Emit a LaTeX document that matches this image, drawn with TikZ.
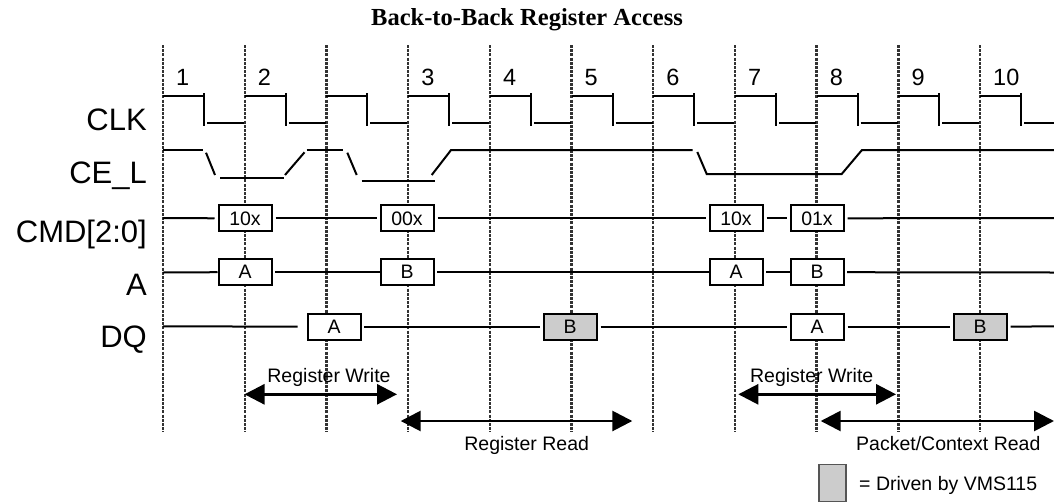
\documentclass[tikz,border=0pt]{standalone}
\usepackage{fontspec}
\setmainfont{Liberation Sans}
\newfontfamily\titlefont{Liberation Serif}
\usetikzlibrary{arrows.meta}
\definecolor{drvgray}{HTML}{CCCCCC}
\definecolor{gridgray}{HTML}{333333}
\definecolor{legborder}{HTML}{555555}
\begin{document}
\begin{tikzpicture}[x=1pt,y=-1pt,
  sig/.style={line width=2pt, line cap=butt},
  gridline/.style={line width=2.4pt, draw=gridgray, dash pattern=on 2.9pt off 1.3pt},
  valbox/.style={draw, line width=2pt, minimum width=53pt, minimum height=26pt, inner sep=0pt, fill=white, font=\fontsize{19.5}{21}\selectfont},
  drvbox/.style={valbox, fill=drvgray},
  rowlab/.style={anchor=base east, inner sep=0pt, font=\fontsize{31}{33}\selectfont},
  cyclab/.style={anchor=base west, inner sep=0pt, font=\fontsize{23.5}{25}\selectfont},
  spanarrow/.style={line width=2.7pt, {Triangle[length=20pt,width=20pt]}-{Triangle[length=20pt,width=20pt]}},
  spanlab/.style={anchor=base, inner sep=0pt, font=\fontsize{19.5}{21}\selectfont},
]
\useasboundingbox (0,0) rectangle (1054,501);

% title
\node[anchor=base, inner sep=0pt, font=\titlefont\bfseries\fontsize{24.5}{26}\selectfont] (title) at (527,25) {Back-to-Back Register Access};

% row labels
\node[rowlab] (lclk) at (147,130) {CLK};
\node[rowlab] (lce) at (147,183) {CE\_L};
\node[rowlab] (lcmd) at (147,242) {CMD[2:0]};
\node[rowlab] (la) at (147,295) {A};
\node[rowlab] (ldq) at (147,347) {DQ};

% dotted cycle lines
\foreach \i in {0,...,10} {
  \pgfmathsetmacro\gx{163+81.7*\i}
  \coordinate (gt\i) at (\gx,45);
  \coordinate (gb\i) at (\gx,432);
  \draw[gridline] (gt\i) -- (gb\i);
}

% clock
\foreach \k in {0,...,10} {
  \pgfmathsetmacro\cx{163+81.7*\k}
  \pgfmathsetmacro\lowend{min(\cx+81,1054)}
  \draw[sig] (\cx,96) -- (\cx+40,96);
  \draw[sig] (\cx+41,93) -- (\cx+41,126);
  \draw[sig] (\cx+44,123) -- (\lowend,123);
}
\foreach \k/\n in {0/1,1/2,3/3,4/4,5/5,6/6,7/7,8/8,9/9,10/10} {
  \pgfmathsetmacro\cx{163+81.7*\k}
  \node[cyclab] (cyc\n) at (\cx+13,85) {\n};
}

% CE_L
\draw[sig] (163,150) -- (203,150);
\draw[sig] (206,152.7) -- (215,175);
\draw[sig] (220,177.5) -- (283.5,177.5);
\draw[sig] (285,175) -- (304.5,152.3);
\draw[sig] (306.7,150) -- (343,150);
\draw[sig] (347.3,152.7) -- (356.7,175);
\draw[sig] (361.7,180.5) -- (435,180.5);
\draw[sig] (431.7,175) -- (449.3,152.3) -- (451,150) -- (692.7,150);
\draw[sig] (697.3,152) -- (706.7,174) -- (841.7,174) -- (860,152.3) -- (862,150) -- (1054,150);

% CMD[2:0]
\coordinate (cmd0) at (163,218);
\coordinate (cmd9) at (1054,218);
\node[valbox] (c1) at (245,218.3) {10x};
\node[valbox] (c2) at (407,218.3) {00x};
\node[valbox] (c3) at (736,218.3) {10x};
\node[valbox] (c4) at (817,218.3) {01x};
\draw[sig, shorten >=3pt] (cmd0) -- (c1.west);
\draw[sig, shorten <=3pt, shorten >=3pt] (c1.east) -- (c2.west);
\draw[sig, shorten <=3pt, shorten >=3pt] (c2.east) -- (c3.west);
\draw[sig, shorten <=3pt, shorten >=3pt] (c3.east) -- (c4.west);
\draw[sig, shorten <=3pt] (c4.east) -- (cmd9);

% A
\coordinate (a0) at (163,272.5);
\coordinate (a9) at (1054,272.5);
\node[valbox] (a1) at (245,272.2) {A};
\node[valbox] (a2) at (407,272.2) {B};
\node[valbox] (a3) at (736,272.2) {A};
\node[valbox] (a4) at (817,272.2) {B};
\draw[sig] (a0) -- (a1.west);
\draw[sig, shorten <=2.5pt] (a1.east) -- (a2.west);
\draw[sig, shorten <=2.5pt] (a2.east) -- (a3.west);
\draw[sig, shorten <=2.5pt] (a3.east) -- (a4.west);
\draw[sig, shorten <=2.5pt] (a4.east) -- (a9);

% DQ
\coordinate (dq0) at (163,326.3);
\coordinate (dq9) at (1054,326.3);
\node[valbox] (d1) at (334.2,326.7) {A};
\node[drvbox] (d2) at (570,326.7) {B};
\node[valbox] (d3) at (817,326.7) {A};
\node[drvbox] (d4) at (980,326.7) {B};
\draw[sig, shorten >=9pt] (dq0) -- (d1.west);
\draw[sig, shorten <=2.5pt, shorten >=2.5pt] (d1.east) -- (d2.west);
\draw[sig, shorten <=3pt, shorten >=2.5pt] (d2.east) -- (d3.west);
\draw[sig, shorten <=3pt, shorten >=2.5pt] (d3.east) -- (d4.west);
\draw[sig, shorten <=3pt] (d4.east) -- (dq9);

% span arrows
\coordinate (w1a) at (244.5,394.3);
\coordinate (w1b) at (397,394.3);
\coordinate (r1a) at (400.7,421);
\coordinate (r1b) at (632.3,421);
\coordinate (w2a) at (738.3,394.3);
\coordinate (w2b) at (896,394.3);
\coordinate (r2a) at (820.7,421);
\coordinate (r2b) at (1054,421);
\node[spanlab] (lw1) at (329,382) {Register Write};
\node[spanlab] (lr1) at (526.7,450) {Register Read};
\node[spanlab] (lw2) at (811.7,382) {Register Write};
\node[spanlab] (lr2) at (948.3,450) {Packet/Context Read};
\draw[spanarrow] (w1a) -- (w1b);
\draw[spanarrow] (r1a) -- (r1b);
\draw[spanarrow] (w2a) -- (w2b);
\draw[spanarrow] (r2a) -- (r2b);

% legend
\node[draw=legborder, fill=drvgray, line width=1.8pt, minimum width=26.7pt, minimum height=37pt, inner sep=0pt] (leg) at (832.7,483) {};
\node[anchor=base west, inner sep=0pt, font=\fontsize{19.5}{21}\selectfont] (legtxt) at (859,490) {= Driven by VMS115};
\end{tikzpicture}
\end{document}
